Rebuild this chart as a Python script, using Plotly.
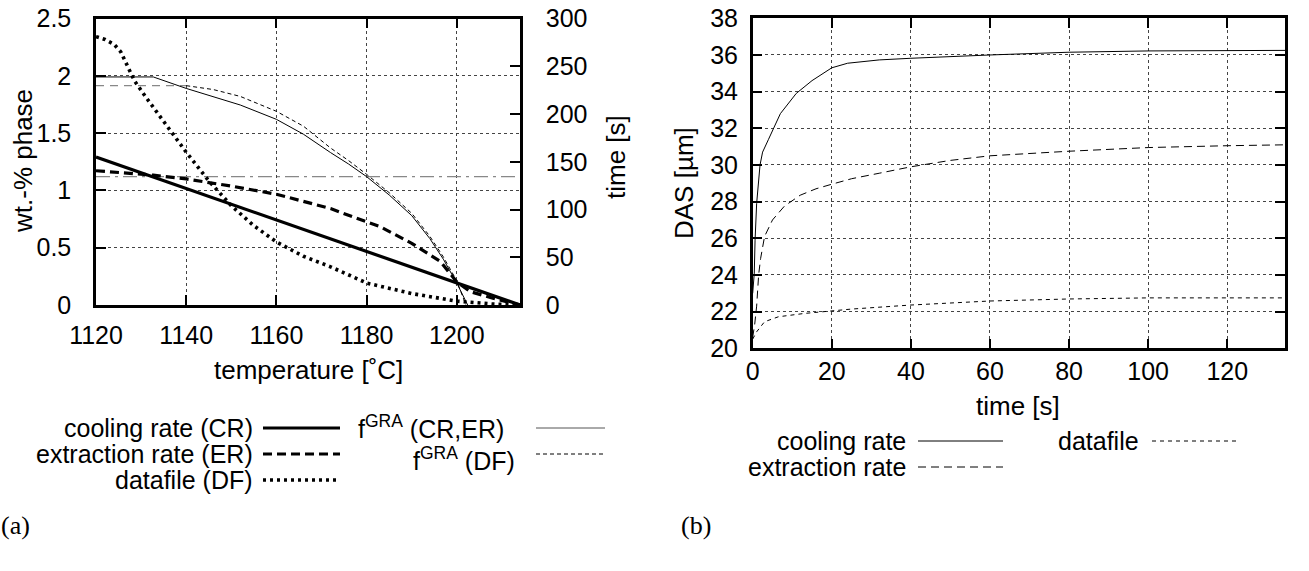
import plotly.graph_objects as go

W, H = 1309, 571
FONT = "Liberation Sans, Arial, sans-serif"
FS = 25
FS_TITLE = 26
FS_KEY = 25

# ---------------- data: panel (a) ----------------
temp_cr = [1120, 1140, 1160, 1180, 1200, 1214]
time_cr = [155, 122, 89, 56, 23, 0]

temp_er = [1120, 1132.7, 1140, 1150, 1160, 1172, 1180, 1183, 1190, 1196.4, 1200, 1203, 1208, 1214]
time_er = [140.6, 136, 132, 124.5, 116, 101, 87, 82, 64.6, 45.4, 24, 14, 7, 0]

temp_df = [1120, 1122, 1124, 1125.5, 1127, 1128.5, 1131, 1133.5, 1136.5, 1140, 1145, 1150, 1155,
           1160, 1166, 1172, 1180, 1190, 1200, 1208, 1214]
time_df = [281, 278, 273, 265, 250, 235, 218, 202, 182, 160, 130, 104, 83,
           66, 51, 40, 23, 12, 4, 1, 0]

temp_fgra_crer = [1120, 1132.7, 1140, 1146, 1152, 1160, 1166, 1172, 1176, 1180, 1185, 1190, 1194, 1197, 1200, 1202.4]
frac_fgra_crer = [1.99, 1.99, 1.89, 1.82, 1.745, 1.62, 1.49, 1.33, 1.23, 1.12, 0.96, 0.78, 0.58, 0.40, 0.19, 0]

temp_fgra_df = [1140, 1146, 1152, 1160, 1166, 1172, 1176, 1180, 1185, 1190, 1194, 1197, 1200, 1202]
frac_fgra_df = [1.914, 1.88, 1.82, 1.69, 1.56, 1.37, 1.26, 1.14, 0.98, 0.80, 0.60, 0.42, 0.21, 0]

temp_level_df = [1120, 1140]
frac_level_df = [1.914, 1.914]
temp_level_dd = [1120, 1214]
frac_level_dd = [1.12, 1.12]

# ---------------- data: panel (b) ----------------
t_cool = [0, 0.4, 0.6, 1.0, 1.85, 2.5, 4, 7, 11, 15, 20, 24, 32, 40, 60, 80, 100, 120, 135]
das_cool = [23.0, 24.1, 25.9, 27.9, 30.0, 30.7, 31.4, 32.8, 33.9, 34.6, 35.3, 35.55, 35.73, 35.82, 36.0, 36.15, 36.22, 36.25, 36.25]

t_ext = [0, 0.5, 1, 1.5, 2, 3, 5, 8, 12, 16, 20, 25, 32, 40, 50, 60, 80, 100, 120, 135]
das_ext = [20.6, 21.3, 22.3, 24.0, 24.9, 26.1, 27.0, 27.75, 28.35, 28.7, 28.95, 29.25, 29.55, 29.9, 30.25, 30.5, 30.75, 30.95, 31.05, 31.1]

t_data = [0, 0.5, 1, 3, 6.5, 13, 20, 25, 40, 60, 80, 100, 120, 135]
das_data = [20.5, 20.7, 20.9, 21.45, 21.72, 21.9, 22.03, 22.14, 22.36, 22.58, 22.69, 22.75, 22.75, 22.75]


def px(x):
    return x / W


def py(y):
    return 1 - y / H


fig = go.Figure()

# panel (a) -- time curves on right axis
fig.add_trace(go.Scatter(x=temp_cr, y=time_cr, mode="lines", yaxis="y2", xaxis="x",
                         line=dict(color="black", width=3.2)))
fig.add_trace(go.Scatter(x=temp_er, y=time_er, mode="lines", yaxis="y2", xaxis="x",
                         line=dict(color="black", width=3.2, dash="9px,5px")))
fig.add_trace(go.Scatter(x=temp_df, y=time_df, mode="lines", yaxis="y2", xaxis="x",
                         line=dict(color="black", width=3.6, dash="3px,4px")))
# panel (a) -- phase fraction on left axis
fig.add_trace(go.Scatter(x=temp_level_dd, y=frac_level_dd, mode="lines", xaxis="x", yaxis="y",
                         line=dict(color="#888888", width=1.3, dash="14px,5px,3px,5px")))
fig.add_trace(go.Scatter(x=temp_level_df, y=frac_level_df, mode="lines", xaxis="x", yaxis="y",
                         line=dict(color="#888888", width=1.3, dash="8px,6px")))
fig.add_trace(go.Scatter(x=temp_fgra_crer, y=frac_fgra_crer, mode="lines", xaxis="x", yaxis="y",
                         line=dict(color="black", width=1)))
fig.add_trace(go.Scatter(x=temp_fgra_df, y=frac_fgra_df, mode="lines", xaxis="x", yaxis="y",
                         line=dict(color="black", width=1, dash="4px,3px")))

# panel (b)
fig.add_trace(go.Scatter(x=t_cool, y=das_cool, mode="lines", xaxis="x3", yaxis="y3",
                         line=dict(color="black", width=1)))
fig.add_trace(go.Scatter(x=t_ext, y=das_ext, mode="lines", xaxis="x3", yaxis="y3",
                         line=dict(color="black", width=1, dash="8px,5px")))
fig.add_trace(go.Scatter(x=t_data, y=das_data, mode="lines", xaxis="x3", yaxis="y3",
                         line=dict(color="black", width=1, dash="4px,4px")))

tickfont = dict(family=FONT, size=FS, color="black")
grid = dict(showgrid=True, gridcolor="#444444", gridwidth=1, griddash="dot")
ax_common = dict(showline=True, linecolor="black", linewidth=2.5, ticks="inside",
                 ticklen=10, tickwidth=2, tickcolor="black", tickfont=tickfont,
                 zeroline=False, automargin=False)

fig.update_layout(
    template="none",
    width=W, height=H, margin=dict(l=0, r=0, t=0, b=0, pad=0),
    paper_bgcolor="white", plot_bgcolor="white", showlegend=False,
    font=dict(family=FONT, size=FS, color="black"),
    xaxis=dict(domain=[px(96), px(520)], range=[1120, 1214], dtick=20, tick0=1120,
               anchor="y", mirror="ticks", ticklabelstandoff=6, **grid, **ax_common),
    yaxis=dict(domain=[py(305), py(18.5)], range=[0, 2.5], dtick=0.5, anchor="x",
               ticklabelstandoff=17, **grid, **ax_common),
    yaxis2=dict(domain=[py(305), py(18.5)], range=[0, 300], dtick=50, overlaying="y",
                side="right", anchor="x", showgrid=False, ticklabelstandoff=18, **ax_common),
    xaxis3=dict(domain=[px(752.7), px(1285)], range=[0, 134.6], dtick=20, anchor="y3",
                mirror="ticks", ticklabelstandoff=-1, **grid, **ax_common),
    yaxis3=dict(domain=[py(348.3), py(18.3)], range=[20, 38], dtick=2, anchor="x3",
                mirror="ticks", ticklabelstandoff=7, **grid, **ax_common),
)

annots = []


def text(x, y, s, anchor="center", angle=0, fam=FONT, size=FS_KEY):
    annots.append(dict(x=px(x), y=py(y), xref="paper", yref="paper", text=s, showarrow=False,
                       xanchor=anchor, yanchor="middle", textangle=angle, borderpad=0,
                       font=dict(family=fam, size=size, color="black")))


text(23, 161, "wt.-% phase", angle=-90, size=FS_TITLE)
text(616, 157, "time [s]", angle=-90, size=FS_TITLE)
text(308, 370, "temperature [˚C]", size=FS_TITLE)
text(684, 183, "DAS [µm]", angle=-90, size=FS_TITLE)
text(1018, 406, "time [s]", size=FS_TITLE)

# legend (a)
text(254, 428, "cooling rate (CR)", anchor="right")
text(254, 454, "extraction rate (ER)", anchor="right")
text(254, 480, "datafile (DF)", anchor="right")
text(505, 427, "f<sup>GRA</sup> (CR,ER)", anchor="right")
text(516, 459, "f<sup>GRA</sup> (DF)", anchor="right")
# legend (b)
text(907, 441, "cooling rate", anchor="right")
text(907, 467, "extraction rate", anchor="right")
text(1140, 441, "datafile", anchor="right")

text(15, 525, "(a)", fam="Liberation Serif, DejaVu Serif", size=26)
text(696, 525, "(b)", fam="Liberation Serif, DejaVu Serif", size=26)

shapes = []


def sample(x0, x1, y, width, dash, color="black"):
    shapes.append(dict(type="line", xref="paper", yref="paper", x0=px(x0), x1=px(x1),
                       y0=py(y), y1=py(y), line=dict(color=color, width=width, dash=dash)))


sample(263, 340, 428, 3.2, "solid")
sample(263, 340, 454, 3.2, "9px,5px")
sample(263, 340, 480, 3.6, "3px,4px")
sample(536, 605, 428, 1, "solid", "#555555")
sample(536, 605, 454, 1, "4px,3px")
sample(918, 1003, 441, 1, "solid")
sample(918, 1003, 467, 1, "8px,5px")
sample(1152, 1236, 441, 1, "4px,4px")

fig.update_layout(annotations=annots, shapes=shapes)
fig.write_html("out.html")
